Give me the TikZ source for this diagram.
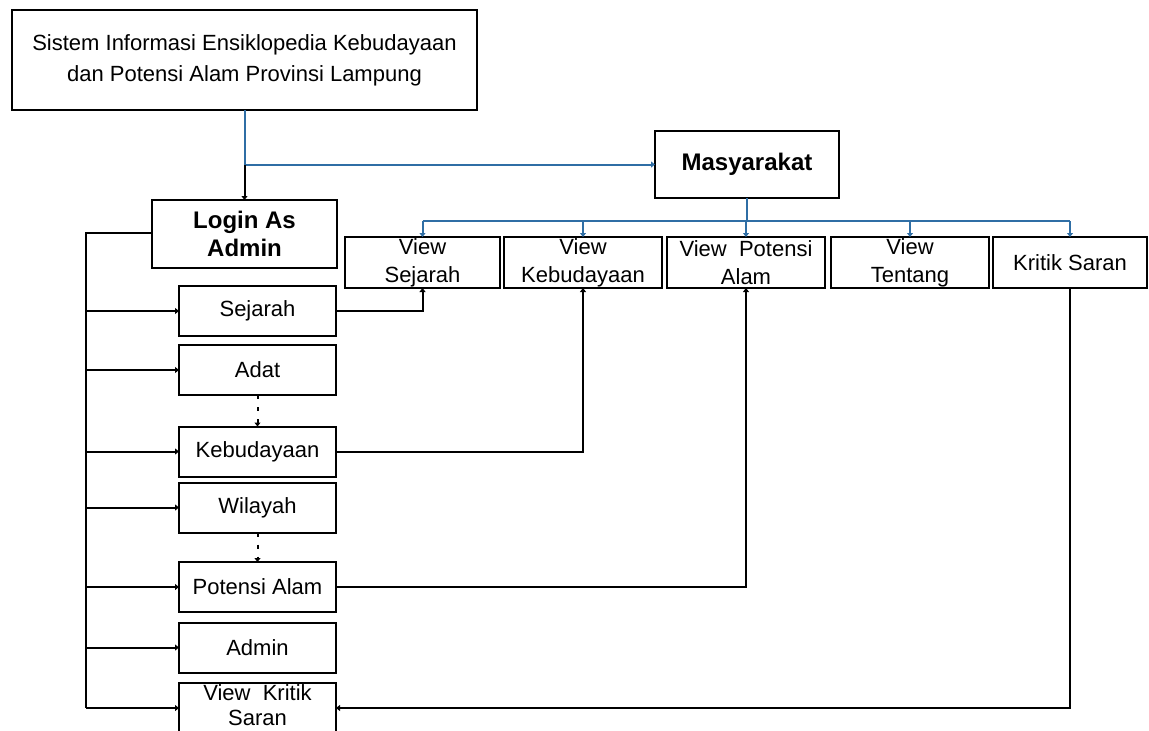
\documentclass[tikz,border=0pt]{standalone}
\usepackage{fontspec}
\setmainfont{Liberation Sans}
\usetikzlibrary{arrows.meta}
\definecolor{linkblue}{HTML}{2F6EA5}
\begin{document}
\begin{tikzpicture}[x=1pt,y=-1pt,
  every node/.style={inner sep=0pt, outer sep=0pt},
  box/.style={draw, line width=2pt, fill=white},
  txt/.style={font=\fontsize{22}{28}\selectfont, align=center},
  boldtxt/.style={font=\fontsize{24}{28}\selectfont\bfseries, align=center},
  tip/.style={-{Triangle[length=4pt,width=6pt]}},
  conn/.style={line width=2pt, black},
  blueconn/.style={line width=2pt, linkblue},
  dotconn/.style={line width=2pt, dash pattern=on 4pt off 8pt}]
\useasboundingbox (0,0) rectangle (1149,731);
\clip (0,0) rectangle (1149,731);

% root of the hierarchy
\node[box, minimum width=465pt, minimum height=100pt,
  label={[txt, font=\fontsize{22}{31}\selectfont]center:Sistem Informasi Ensiklopedia Kebudayaan\\dan Potensi Alam Provinsi Lampung}]
  (root) at (244.5,60) {};

% the two user roles
\node[box, minimum width=185pt, minimum height=68pt,
  label={[boldtxt]center:Login As\\Admin}]
  (login) at (244.5,234) {};
\node[box, minimum width=184pt, minimum height=67pt,
  label={[boldtxt]center:Masyarakat}]
  (masy) at (747,164.5) {};

% public pages
\foreach \n/\cx/\w/\t in {vs/422.5/155/{View\\Sejarah},
                          vk/583/158/{View\\Kebudayaan},
                          vp/746/158/{View\ \ Potensi\\Alam},
                          vt/910/158/{View\\Tentang},
                          ks/1070/154/{Kritik Saran}}
  \node[box, minimum width=\w pt, minimum height=51pt,
    label={[txt]center:\t}] (\n) at (\cx,262.5) {};

% admin pages
\foreach \n/\cy/\t in {sej/311/Sejarah,
                       adat/370/Adat,
                       keb/451.5/Kebudayaan,
                       wil/507.5/Wilayah,
                       pot/587/Potensi Alam,
                       adm/647.5/Admin}
  \node[box, minimum width=157pt, minimum height=50pt,
    label={[txt]center:\t}] (\n) at (257.5,\cy) {};
\node[box, minimum width=157pt, minimum height=50pt,
  label={[txt, font=\fontsize{22}{25}\selectfont, yshift=3pt]center:View\ \ Kritik\\Saran}]
  (vks) at (257.5,708) {};

% root branches
\coordinate (split) at (root.south |- masy.west);
\draw[blueconn] (root.south) -- (split);
\draw[blueconn, tip] (split) -- (masy.west);
\draw[conn, tip] (split) -- (login.north);

% public page bus
\coordinate (pbus) at (747,221);
\draw[blueconn] (masy.south) -- (pbus);
\draw[blueconn] (vs.north |- pbus) -- (ks.north |- pbus);
\foreach \n in {vs,vk,vp,vt,ks}
  \draw[blueconn, tip] (\n.north |- pbus) -- (\n.north);

% admin page bus
\coordinate (abus) at (86,233);
\draw[conn] (login.west |- abus) -- (abus) -- (abus |- vks.west);
\foreach \n in {sej,adat,keb,wil,pot,adm,vks}
  \draw[conn, tip] (abus |- \n.west) -- (\n.west);

% dotted sequence links
\draw[dotconn, tip] (adat.south) -- (keb.north);
\draw[dotconn, tip] (wil.south) -- (pot.north);

% admin content shown on public pages
\draw[conn, tip] (sej.east) -- (vs.south |- sej.east) -- (vs.south);
\draw[conn, tip] (keb.east) -- (vk.south |- keb.east) -- (vk.south);
\draw[conn, tip] (pot.east) -- (vp.south |- pot.east) -- (vp.south);
\draw[conn, tip] (ks.south) -- (ks.south |- vks.east) -- (vks.east);
\end{tikzpicture}
\end{document}
